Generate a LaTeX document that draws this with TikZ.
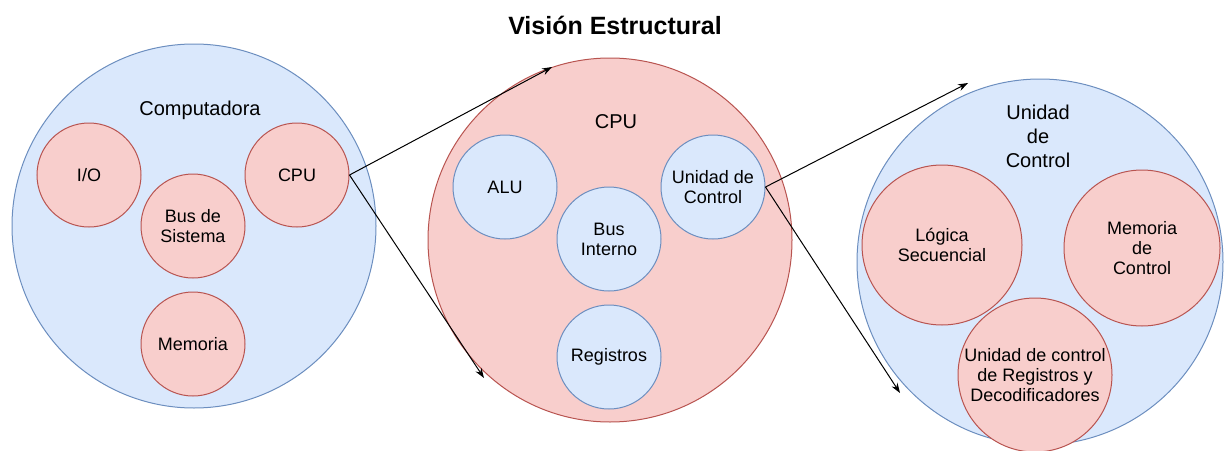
\documentclass[tikz,border=0pt]{standalone}
\usepackage{fontspec}
\setmainfont{Liberation Sans}
\usetikzlibrary{arrows.meta,positioning}
\definecolor{dioblue}{HTML}{DAE8FC}
\definecolor{dioblueline}{HTML}{6C8EBF}
\definecolor{diored}{HTML}{F8CECC}
\definecolor{dioredline}{HTML}{B85450}

\begin{document}
\begin{tikzpicture}[
    x=1pt, y=-1pt,
    bluecirc/.style={circle, draw=dioblueline, fill=dioblue, line width=1pt, inner sep=0pt},
    redcirc/.style={circle, draw=dioredline, fill=diored, line width=1pt, inner sep=0pt},
    parttxt/.style={align=center, font=\fontsize{18}{20}\selectfont},
    lbl/.style={align=center, font=\fontsize{20}{24}\selectfont},
    link/.style={line width=1pt, -{Stealth[length=10pt, width=7pt]}},
]
\useasboundingbox (0,0) rectangle (1229,450);
\node[font=\bfseries\fontsize{25}{30}\selectfont] (title) at (615,25) {Visión Estructural};

% computadora
\node[bluecirc, minimum size=364] (comp) at (194,226) {};
\node[lbl] (compl) at (200,110) {Computadora};
\node[redcirc, minimum size=104, parttxt] (io) at (89,175) {I/O};
\node[redcirc, minimum size=104, parttxt] (cpu) at (297,175) {CPU};
\node[redcirc, minimum size=104, parttxt] (bus) at (193,226) {Bus de\\Sistema};
\node[redcirc, minimum size=104, parttxt] (mem) at (193,344) {Memoria};

% cpu
\node[redcirc, minimum size=364] (proc) at (610,240) {};
\node[lbl] (procl) at (616,122) {CPU};
\node[bluecirc, minimum size=104, parttxt] (alu) at (505,187) {ALU};
\node[bluecirc, minimum size=104, parttxt] (uc) at (713,187) {Unidad de\\Control};
\node[bluecirc, minimum size=104, parttxt] (busi) at (609,239) {Bus\\Interno};
\node[bluecirc, minimum size=104, parttxt] (reg) at (609,357) {Registros};

% unidad de control
\node[bluecirc, minimum size=366] (ctrl) at (1040,262) {};
\node[lbl] (ctrll) at (1038,136) {Unidad\\de\\Control};
\node[redcirc, minimum size=160, parttxt] (logic) at (942,245) {Lógica\\Secuencial};
\node[redcirc, minimum size=156, parttxt] (cmem) at (1142,248) {Memoria\\de\\Control};
\node[redcirc, minimum size=154, parttxt] (dec) at (1035,375) {Unidad de control\\de Registros y\\Decodificadores};

\coordinate (t1) at (552,67);
\coordinate (t2) at (484,378);
\coordinate (t3) at (968,83);
\coordinate (t4) at (900,393);
\draw[link] (cpu.east) -- (t1);
\draw[link] (cpu.east) -- (t2);
\draw[link] (uc.east) -- (t3);
\draw[link] (uc.east) -- (t4);
\end{tikzpicture}
\end{document}
